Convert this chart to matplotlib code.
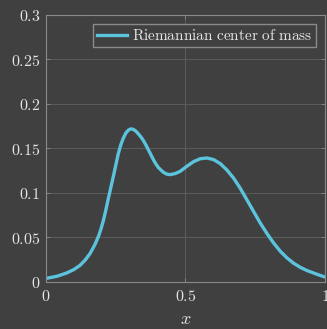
import matplotlib
matplotlib.use('Agg')
import matplotlib.pyplot as plt
from matplotlib.ticker import FuncFormatter

# density of the Riemannian center of mass
x_vals = [0.008, 0.04, 0.074, 0.10, 0.122, 0.14, 0.158, 0.175, 0.188, 0.197, 0.206, 0.215, 0.224,
          0.233, 0.242, 0.251, 0.259, 0.268, 0.277, 0.286, 0.295, 0.304, 0.313, 0.322, 0.331, 0.340,
          0.349, 0.358, 0.367, 0.376, 0.385, 0.394, 0.403,
          0.421, 0.433, 0.445, 0.463, 0.481, 0.505, 0.529, 0.553, 0.577, 0.601, 0.625,
          0.648, 0.672, 0.696, 0.720, 0.744, 0.768, 0.792, 0.816, 0.840, 0.864,
          0.888, 0.912, 0.936, 0.959, 0.98, 1.0]
y_vals = [0.0045, 0.0065, 0.0101, 0.0140, 0.0187, 0.0245, 0.0320, 0.0418, 0.0512, 0.0595, 0.0695, 0.0815, 0.0945,
          0.1070, 0.1195, 0.1325, 0.1440, 0.1540, 0.1615, 0.1672, 0.1706, 0.1720, 0.1715, 0.1695, 0.1665, 0.1630,
          0.1590, 0.1540, 0.1485, 0.1430, 0.1374, 0.1325, 0.1285,
          0.1232, 0.1212, 0.1206, 0.1218, 0.1243, 0.1300, 0.1352, 0.1385, 0.1393, 0.1375, 0.1329,
          0.1260, 0.1169, 0.1055, 0.0925, 0.0793, 0.0663, 0.0545, 0.0438, 0.0345, 0.0270,
          0.0210, 0.0164, 0.0128, 0.0101, 0.0077, 0.0056]
x_ticks = [0, 0.5, 1]
y_ticks = [0, 0.05, 0.1, 0.15, 0.2, 0.25, 0.3]

bg = '#404040'
fg = '#e6e6e6'
edge = '#8a8a8a'

plt.rcParams['mathtext.fontset'] = 'cm'
plt.rcParams['font.family'] = 'serif'

fig = plt.figure(figsize=(3.27, 3.29), dpi=100, facecolor=bg)
ax = fig.add_axes([0.1407, 0.1429, 0.853, 0.8116], facecolor=bg)

ax.plot(x_vals, y_vals, color='#5bc4dc', lw=2.4, solid_joinstyle='round',
        label=r'$\mathrm{Riemannian\ center\ of\ mass}$')

ax.set_xlim(0, 1)
ax.set_ylim(0, 0.3)
ax.set_xticks(x_ticks)
ax.set_yticks(y_ticks)
fmt = FuncFormatter(lambda v, p: f'${v:g}$')
ax.xaxis.set_major_formatter(fmt)
ax.yaxis.set_major_formatter(fmt)
ax.tick_params(direction='in', length=3, width=0.6, colors=edge, labelcolor=fg,
               labelsize=11.5, top=True, right=True, pad=4)
ax.grid(True, color='#5c5c5c', lw=0.7)
for s in ax.spines.values():
    s.set_color(edge)
    s.set_linewidth(0.8)

ax.set_xlabel(r'$x$', color=fg, fontsize=13, labelpad=4)

leg = ax.legend(loc='upper right', fontsize=11, frameon=True, fancybox=False,
                handlelength=2.0, handletextpad=0.3, borderpad=0.25,
                borderaxespad=0.6)
leg.get_frame().set_facecolor(bg)
leg.get_frame().set_edgecolor(edge)
leg.get_frame().set_alpha(1)
for t in leg.get_texts():
    t.set_color(fg)

fig.savefig('out.png', dpi=100, facecolor=bg)
